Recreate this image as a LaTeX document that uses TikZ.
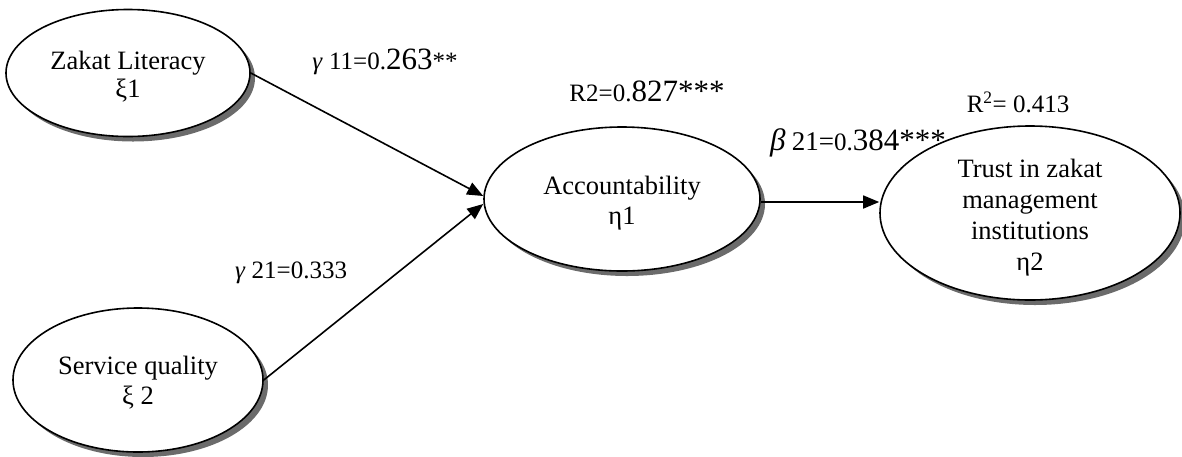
\documentclass[tikz,border=0pt]{standalone}
\usepackage{fontspec}
\setmainfont{Liberation Serif}
\usetikzlibrary{shapes.geometric,shadows,arrows.meta}
\tikzset{
  latent/.style={ellipse, draw=black, line width=1.6pt, fill=white, inner sep=0pt,
    drop shadow={shadow xshift=5pt, shadow yshift=-5pt, fill=black!58, opacity=1}},
  ltext/.style={inner sep=0pt, align=center, font=\fontsize{26.5}{30}\selectfont},
  path/.style={line width=1.6pt, -{Triangle[length=16pt,width=13pt]}},
  lab/.style={inner sep=0pt, font=\fontsize{25}{25}\selectfont}
}
\newcommand{\bigsz}[1]{{\fontsize{31}{31}\selectfont #1}}
\begin{document}
\begin{tikzpicture}[x=1pt,y=-1pt]
\useasboundingbox (0,0) rectangle (1182,456);
\node[latent, minimum width=244pt, minimum height=127pt] (zl) at (128,73) {};
\node[latent, minimum width=250pt, minimum height=144pt] (sq) at (138,380) {};
\node[latent, minimum width=276pt, minimum height=144pt] (acc) at (622,199) {};
\node[latent, minimum width=300pt, minimum height=174pt] (tr) at (1030,213) {};
\node[ltext, font=\fontsize{26.5}{28}\selectfont] (zlt) at ([yshift=-4pt]zl.center) {Zakat Literacy\\ξ1};
\node[ltext] (sqt) at ([yshift=-3pt]sq.center) {Service quality\\ξ 2};
\node[ltext] (acct) at ([yshift=-4pt]acc.center) {Accountability\\η1};
\node[ltext, font=\fontsize{26.5}{31}\selectfont] (trt) at ([yshift=-5pt]tr.center) {Trust in zakat\\management\\institutions\\η2};
\coordinate (a1) at ([yshift=3pt]acc.west);
\coordinate (a2) at ([yshift=-5pt]acc.west);
\draw[path] (zl.east) -- (a1);
\draw[path] (sq.east) -- (a2);
\draw[path] ([yshift=-3pt]acc.east) -- ([yshift=-3pt]acc.east -| tr.west);
\node[lab] (g11) at (385,62) {\textit{γ} 11=0.\bigsz{263}**};
\node[lab] (g21) at (291,273) {\textit{γ} 21=0.333};
\node[lab] (r1) at (647,91) {R2=0.\bigsz{827***}};
\node[lab] (b21) at (858,143) {\bigsz{\textit{β}} {\fontsize{27}{27}\selectfont 21=}0.\bigsz{384***}};
\node[lab] (r2) at (1018,102) {R\textsuperscript{2}= 0.413};
\end{tikzpicture}
\end{document}
